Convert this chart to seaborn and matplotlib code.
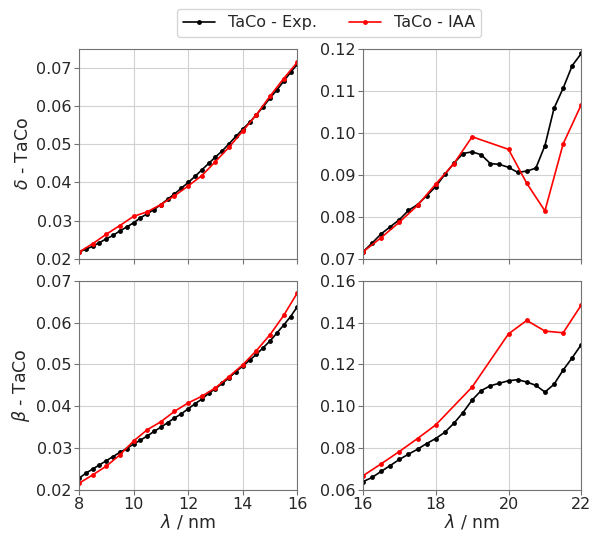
import numpy as np
import pandas as pd
import matplotlib
matplotlib.use("Agg")
import matplotlib.pyplot as plt
import seaborn as sns

# wavelength grids
lam_short_exp = np.arange(8, 16.01, 0.25)
lam_short_iaa = np.arange(8, 16.01, 0.5)
lam_long_exp = np.arange(16, 22.01, 0.25)
lam_long_iaa_delta = [16, 16.5, 17, 17.5, 18, 18.5, 19, 20, 20.5, 21, 21.5, 22]
lam_long_iaa_beta = [16, 16.5, 17, 17.5, 18, 19, 20, 20.5, 21, 21.5, 22]

# delta, 8-16 nm
delta_short_exp = [0.0217, 0.0225, 0.0232, 0.0242, 0.0252, 0.0261, 0.0273, 0.0283,
                   0.0294, 0.0307, 0.0318, 0.0329, 0.0342, 0.0356, 0.0370, 0.0385,
                   0.0400, 0.0416, 0.0433, 0.0450, 0.0467, 0.0483, 0.0502, 0.0521,
                   0.0540, 0.0558, 0.0578, 0.0599, 0.0622, 0.0643, 0.0666, 0.0689, 0.0711]
delta_short_iaa = [0.0217, 0.0239, 0.0264, 0.0287, 0.0311, 0.0323, 0.0342, 0.0365,
                   0.0391, 0.0418, 0.0455, 0.0493, 0.0535, 0.0578, 0.0627, 0.0673, 0.0716]

# delta, 16-22 nm
delta_long_exp = [0.0716, 0.0737, 0.0759, 0.0776, 0.0793, 0.0815, 0.0829, 0.0850,
                  0.0872, 0.0901, 0.0928, 0.0951, 0.0955, 0.0948, 0.0927, 0.0925,
                  0.0918, 0.0906, 0.0909, 0.0916, 0.0970, 0.1059, 0.1107, 0.1161, 0.1190]
delta_long_iaa = [0.0716, 0.0750, 0.0787, 0.0827, 0.0878, 0.0927, 0.0991, 0.0961,
                  0.0880, 0.0814, 0.0974, 0.1068]

# beta, 8-16 nm
beta_short_exp = [0.0228, 0.0240, 0.0250, 0.0260, 0.0270, 0.0280, 0.0290, 0.0299,
                  0.0310, 0.0319, 0.0329, 0.0340, 0.0350, 0.0361, 0.0372, 0.0382,
                  0.0394, 0.0406, 0.0417, 0.0431, 0.0442, 0.0455, 0.0468, 0.0483,
                  0.0496, 0.0510, 0.0524, 0.0540, 0.0556, 0.0575, 0.0594, 0.0614, 0.0638]
beta_short_iaa = [0.0216, 0.0236, 0.0257, 0.0284, 0.0317, 0.0344, 0.0363, 0.0388,
                  0.0408, 0.0424, 0.0444, 0.0471, 0.0499, 0.0533, 0.0571, 0.0617, 0.0671]

# beta, 16-22 nm
beta_long_exp = [0.0640, 0.0660, 0.0689, 0.0717, 0.0746, 0.0771, 0.0795, 0.0822,
                 0.0846, 0.0876, 0.0919, 0.0970, 0.1030, 0.1075, 0.1098, 0.1110,
                 0.1122, 0.1127, 0.1116, 0.1100, 0.1068, 0.1105, 0.1173, 0.1232, 0.1295]
beta_long_iaa = [0.0668, 0.0725, 0.0784, 0.0846, 0.0911, 0.1092, 0.1346, 0.1410,
                 0.1359, 0.1351, 0.1484]

sns.set_style("whitegrid", {"axes.edgecolor": "0.45", "grid.color": "0.82",
                            "xtick.bottom": True, "ytick.left": True})
plt.rcParams["font.family"] = ["DejaVu Sans"]

fig, axes = plt.subplots(2, 2, figsize=(5.89, 5.35), dpi=100, sharex="col")
fig.subplots_adjust(left=0.134, right=0.987, top=0.908, bottom=0.084,
                    wspace=0.30, hspace=0.105)

panels = [
    (axes[0, 0], lam_short_exp, delta_short_exp, lam_short_iaa, delta_short_iaa, (8, 16), (0.02, 0.075), [0.02, 0.03, 0.04, 0.05, 0.06, 0.07], [8, 10, 12, 14, 16]),
    (axes[0, 1], lam_long_exp, delta_long_exp, lam_long_iaa_delta, delta_long_iaa, (16, 22), (0.07, 0.12), [0.07, 0.08, 0.09, 0.10, 0.11, 0.12], [16, 18, 20, 22]),
    (axes[1, 0], lam_short_exp, beta_short_exp, lam_short_iaa, beta_short_iaa, (8, 16), (0.02, 0.07), [0.02, 0.03, 0.04, 0.05, 0.06, 0.07], [8, 10, 12, 14, 16]),
    (axes[1, 1], lam_long_exp, beta_long_exp, lam_long_iaa_beta, beta_long_iaa, (16, 22), (0.06, 0.16), [0.06, 0.08, 0.10, 0.12, 0.14, 0.16], [16, 18, 20, 22]),
]

for ax, xe, ye, xi, yi, xl, yl, yt, xt in panels:
    sns.lineplot(x=xe, y=ye, ax=ax, color="black", marker="o", markersize=3.5,
                 markeredgewidth=0, linewidth=1.2, label="TaCo - Exp.", legend=False)
    sns.lineplot(x=xi, y=yi, ax=ax, color="red", marker="o", markersize=3.5,
                 markeredgewidth=0, linewidth=1.2, label="TaCo - IAA", legend=False)
    ax.set_xlim(*xl)
    ax.set_ylim(*yl)
    ax.set_yticks(yt)
    ax.set_yticklabels([f"{v:.2f}" for v in yt])
    ax.set_xticks(xt)
    ax.tick_params(labelsize=11.5, length=3.5, pad=1.5, color="0.45")

axes[0, 0].set_ylabel(r"$\delta$ - TaCo", fontsize=12.5, labelpad=3)
axes[1, 0].set_ylabel(r"$\beta$ - TaCo", fontsize=12.5, labelpad=3)
axes[1, 0].set_xlabel(r"$\lambda$ / nm", fontsize=12.5, labelpad=0.5)
axes[1, 1].set_xlabel(r"$\lambda$ / nm", fontsize=12.5, labelpad=0.5)

handles, labels = axes[0, 0].get_legend_handles_labels()
fig.legend(handles, labels, loc="upper center", ncol=2, fontsize=11.5,
           bbox_to_anchor=(0.559, 0.998), frameon=True, edgecolor="0.8")

fig.savefig("out.png", dpi=100)
